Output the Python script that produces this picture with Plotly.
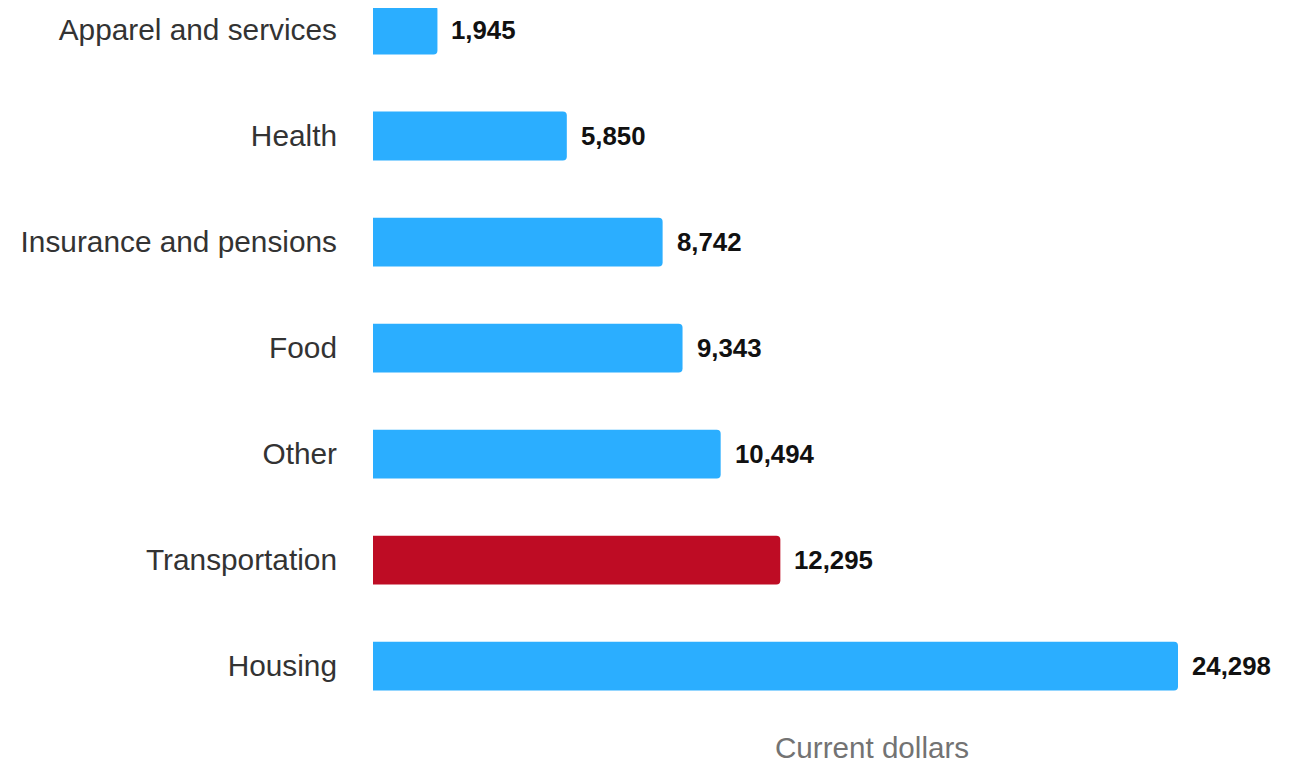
import plotly.graph_objects as go

categories = ["Housing", "Transportation", "Other", "Food",
              "Insurance and pensions", "Health", "Apparel and services"]
values = [24298, 12295, 10494, 9343, 8742, 5850, 1945]
highlight = "Transportation"
axis_title = "Current dollars"

BLUE = "#2BAEFF"
RED = "#BE0C24"
FONT = "Liberation Sans, Arial, Helvetica, sans-serif"
colors = [RED if c == highlight else BLUE for c in categories]

fig = go.Figure()
fig.add_trace(go.Bar(
    x=values, y=categories, orientation="h",
    marker=dict(color=colors, line=dict(width=0), cornerradius=4),
    width=0.46, hoverinfo="x+y",
))

for c, v in zip(categories, values):
    fig.add_annotation(x=v, y=c, text=f"<b>{v:,}</b>", showarrow=False,
                       xanchor="left", xshift=12,
                       font=dict(family=FONT, size=25.8, color="#111"))

fig.add_annotation(x=0.5563, y=0, xref="paper", yref="paper", yanchor="middle",
                   yshift=-27, text=axis_title, showarrow=False,
                   font=dict(family=FONT, size=29.6, color="#737373"))

fig.update_layout(
    width=1286, height=751,
    margin=dict(l=365, r=24, t=0, b=39),
    paper_bgcolor="white", plot_bgcolor="white",
    showlegend=False,
    xaxis=dict(range=[0, 27075], showgrid=False, zeroline=False,
               showticklabels=False, showline=False, fixedrange=True),
    yaxis=dict(categoryorder="array", categoryarray=categories,
               range=[-0.509, 6.2075], showgrid=False, zeroline=False,
               ticklabelstandoff=35, ticks="",
               tickfont=dict(family=FONT, size=29.8, color="#333333")),
)

fig.write_html("out.html")
